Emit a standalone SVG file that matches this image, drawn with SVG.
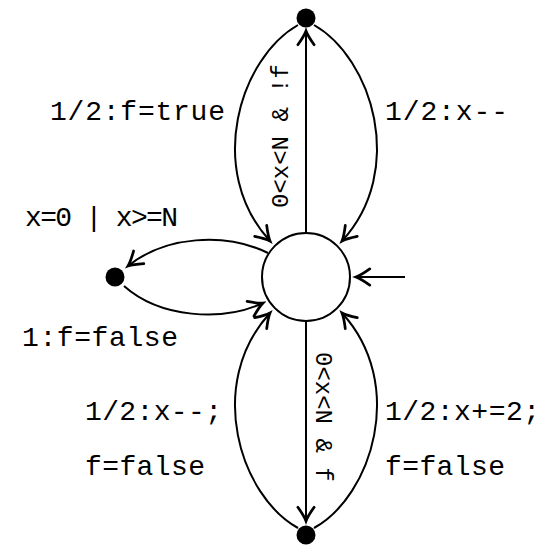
<svg xmlns="http://www.w3.org/2000/svg" width="554" height="546" viewBox="0 0 554 546">
<defs>
<marker id="arr" markerWidth="20" markerHeight="20" refX="0" refY="0" viewBox="-12 -8 14 16" markerUnits="userSpaceOnUse" orient="auto">
<path d="M -11 -6.5 Q -4 -1.5 0 0 Q -4 1.5 -11 6.5" fill="none" stroke="#000" stroke-width="2.2" stroke-linecap="round"/>
</marker>
<style>
.e{fill:none;stroke:#000;stroke-width:2;marker-end:url(#arr)}
.t{font-family:"Liberation Mono","DejaVu Sans Mono",monospace;font-size:28px;fill:#000}
.r{font-family:"Liberation Mono","DejaVu Sans Mono",monospace;font-size:24px;fill:#000}
</style>
</defs>
<rect width="554" height="546" fill="#fff"/>
<g id="connectors">
<path class="e" d="M 306 233 L 306 31"/>
<path class="e" d="M 298 25 C 240 58, 205 170, 270 241"/>
<path class="e" d="M 314 25 C 372 58, 407 170, 342 241"/>
<path class="e" d="M 268 253 C 225 232, 165 236, 128 266"/>
<path class="e" d="M 124 286 C 160 318, 222 322, 263 303"/>
<path class="e" d="M 306 321 L 306 521"/>
<path class="e" d="M 298 528 C 240 496, 205 384, 270 313"/>
<path class="e" d="M 314 528 C 372 496, 407 384, 342 313"/>
<path class="e" d="M 405 277 L 356 277"/>
</g>
<g id="s0"><circle cx="306" cy="277" r="44" fill="#fff" stroke="#000" stroke-width="2"/></g>
<g id="top"><circle cx="306" cy="18" r="9.5" fill="#000"/></g>
<g id="left"><circle cx="115" cy="277" r="9.5" fill="#000"/></g>
<g id="bottom"><circle cx="306" cy="535" r="9.5" fill="#000"/></g>
<g id="labels">
<text class="t" x="50" y="120" textLength="175">1/2:f=true</text>
<text class="t" x="385" y="120" textLength="123">1/2:x--</text>
<text class="r" transform="translate(288,208) rotate(-90)">0&lt;x&lt;N &amp; !f</text>
<text class="r" transform="translate(316,352) rotate(90)">0&lt;x&lt;N &amp; f</text>
<text class="t" x="25" y="226" textLength="153">x=0 | x&gt;=N</text>
<text class="t" x="22" y="346" textLength="156">1:f=false</text>
<text class="t" x="85" y="420" textLength="137">1/2:x--;</text>
<text class="t" x="85" y="475" textLength="120">f=false</text>
<text class="t" x="385" y="420" textLength="155">1/2:x+=2;</text>
<text class="t" x="385" y="475" textLength="120">f=false</text>
</g>
</svg>
